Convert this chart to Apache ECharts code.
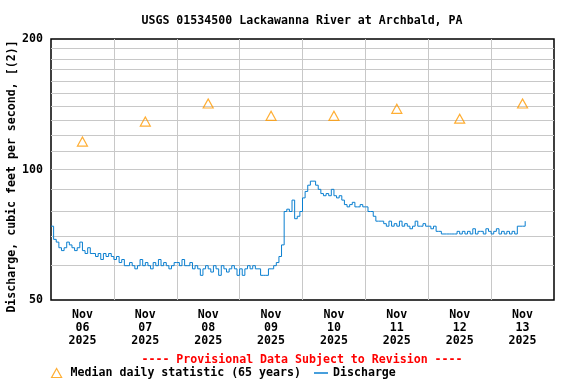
<!DOCTYPE html>
<html>
<head>
<meta charset="utf-8">
<script src="https://cdn.jsdelivr.net/npm/echarts@6/dist/echarts.min.js"></script>
<style>html,body{margin:0;padding:0;background:#fff}#c{width:576px;height:384px}</style>
</head>
<body>
<div id="c"></div>
<script>
// ---- data ----
const titleText = 'USGS 01534500 Lackawanna River at Archbald, PA';
const provisionalText = '---- Provisional Data Subject to Revision ----';
const yAxisName = 'Discharge, cubic feet per second, [(2)]';
const medianName = 'Median daily statistic (65 years)';
const dischargeName = 'Discharge';
const startUTC = Date.UTC(2025, 10, 6, 0, 0); // Nov 06 2025 00:00
const dayLabels = ['Nov\n06\n2025', 'Nov\n07\n2025', 'Nov\n08\n2025', 'Nov\n09\n2025',
                   'Nov\n10\n2025', 'Nov\n11\n2025', 'Nov\n12\n2025', 'Nov\n13\n2025'];
// hourly discharge (cfs) starting Nov 06 00:00
const dischargeNov06 = [74,69,68,66,65,66,68,67,66,65,66,68,65,64,66,64,64,63,64,62,64,63,64,63];
const dischargeNov07 = [62,63,61,62,60,60,61,60,59,60,62,60,61,60,59,61,60,62,60,61,60,59,60,61];
const dischargeNov08 = [61,60,62,60,60,61,59,60,59,57,59,60,59,58,60,59,57,60,59,58,59,60,59,57];
const dischargeNov09 = [59,57,59,60,59,60,59,59,57,57,57,59,59,60,61,63,67,80,81,80,85,77,78,80];
const dischargeNov10 = [86,89,92,94,94,92,90,88,87,88,87,90,87,86,87,85,83,82,83,84,82,82,83,82];
const dischargeNov11 = [82,80,80,78,76,76,76,75,74,76,74,75,74,76,74,75,74,73,74,76,74,74,75,74];
const dischargeNov12 = [74,73,74,72,72,71,71,71,71,71,71,72,71,72,71,72,71,73,71,72,72,71,73,72];
const dischargeNov13 = [71,72,73,71,72,71,72,71,72,71,74,74,74,76];
// median daily statistic, one per day (plotted at noon)
const medianValues = [116,129,142,133,133,138,131,142];
const yLabelValues = [50,100,200];
const yGridValues = [60,70,80,90,100,110,120,130,140,150,160,170,180,190];

// ---- build ----
const HOUR = 3600e3, DAY = 24 * HOUR;
const discharge = [].concat(dischargeNov06, dischargeNov07, dischargeNov08, dischargeNov09,
  dischargeNov10, dischargeNov11, dischargeNov12, dischargeNov13);
const dischargeData = discharge.map((v, i) => [startUTC + i * HOUR, v]);
const medianData = medianValues.map((v, i) => [startUTC + i * DAY + 12 * HOUR, v]);
const xMin = startUTC, xMax = startUTC + dayLabels.length * DAY;
const xGrid = [], xLabelPos = [];
for (let i = 1; i < dayLabels.length; i++) xGrid.push(startUTC + i * DAY);
for (let i = 0; i < dayLabels.length; i++) xLabelPos.push(startUTC + i * DAY + 12 * HOUR);

const FONT = "'DejaVu Sans Mono', monospace";
const FS = 11.6;
const txt = {fontFamily: FONT, fontWeight: 'bold', fontSize: FS, color: '#000'};
const ORANGE = '#ff9a00', BLUE = '#0a7fd0';
const hollow = {color: 'rgba(255,255,255,0)', borderColor: ORANGE, borderWidth: 1.2};

const chart = echarts.init(document.getElementById('c'), null, {renderer: 'canvas'});
chart.setOption({
  animation: false,
  backgroundColor: '#fff',
  title: [
    {text: titleText, left: 302, top: 15, padding: 0, textAlign: 'center', textStyle: Object.assign({}, txt)},
    {text: provisionalText, left: 302, top: 354, padding: 0, textAlign: 'center', textStyle: Object.assign({}, txt, {color: '#ff0000'})}
  ],
  legend: [
    {data: [{name: medianName, icon: 'triangle'}], left: 51, top: 367, padding: 0, itemWidth: 10, itemHeight: 9, itemGap: 0,
     itemStyle: hollow,
     textStyle: Object.assign({}, txt, {padding: [0, 0, 0, 4]})},
    {data: [{name: dischargeName, icon: 'rect'}], left: 314, top: 367, padding: 0, itemWidth: 14, itemHeight: 1.5,
     itemStyle: {color: BLUE, borderWidth: 0},
     textStyle: Object.assign({}, txt)}
  ],
  grid: {left: 51, top: 39, width: 503, height: 261, outerBoundsMode: 'none', containLabel: false,
         show: true, borderColor: '#000', borderWidth: 1.5, backgroundColor: '#fff'},
  xAxis: {
    type: 'value', min: xMin, max: xMax,
    axisLine: {show: false},
    axisTick: {show: false, customValues: xGrid},
    splitLine: {show: true, lineStyle: {color: '#c8c8c8', width: 1}},
    axisLabel: {
      customValues: xLabelPos, margin: 8, lineHeight: 13,
      fontFamily: FONT, fontWeight: 'bold', fontSize: FS, color: '#000',
      formatter: v => dayLabels[Math.round((v - startUTC - 12 * HOUR) / DAY)]
    }
  },
  yAxis: {
    type: 'log', logBase: 10, min: 50, max: 200,
    name: yAxisName, nameLocation: 'middle', nameGap: 33, nameRotate: 90, nameMoveOverlap: false,
    nameTextStyle: Object.assign({}, txt, {padding: [0, 14, 0, 0]}),
    axisLine: {show: false},
    axisTick: {show: false, customValues: yGridValues},
    splitLine: {show: true, lineStyle: {color: '#c8c8c8', width: 1}},
    minorTick: {show: false}, minorSplitLine: {show: false},
    axisLabel: {customValues: yLabelValues, margin: 8, fontFamily: FONT, fontWeight: 'bold', fontSize: FS, color: '#000'}
  },
  series: [
    {name: medianName, type: 'scatter', data: medianData, symbol: 'triangle', symbolSize: [10, 9],
     itemStyle: hollow, z: 3},
    {name: dischargeName, type: 'line', data: dischargeData, step: 'end', showSymbol: false, symbol: 'none',
     lineStyle: {color: BLUE, width: 1}, itemStyle: {color: BLUE}, z: 4}
  ]
});
</script>
</body>
</html>
